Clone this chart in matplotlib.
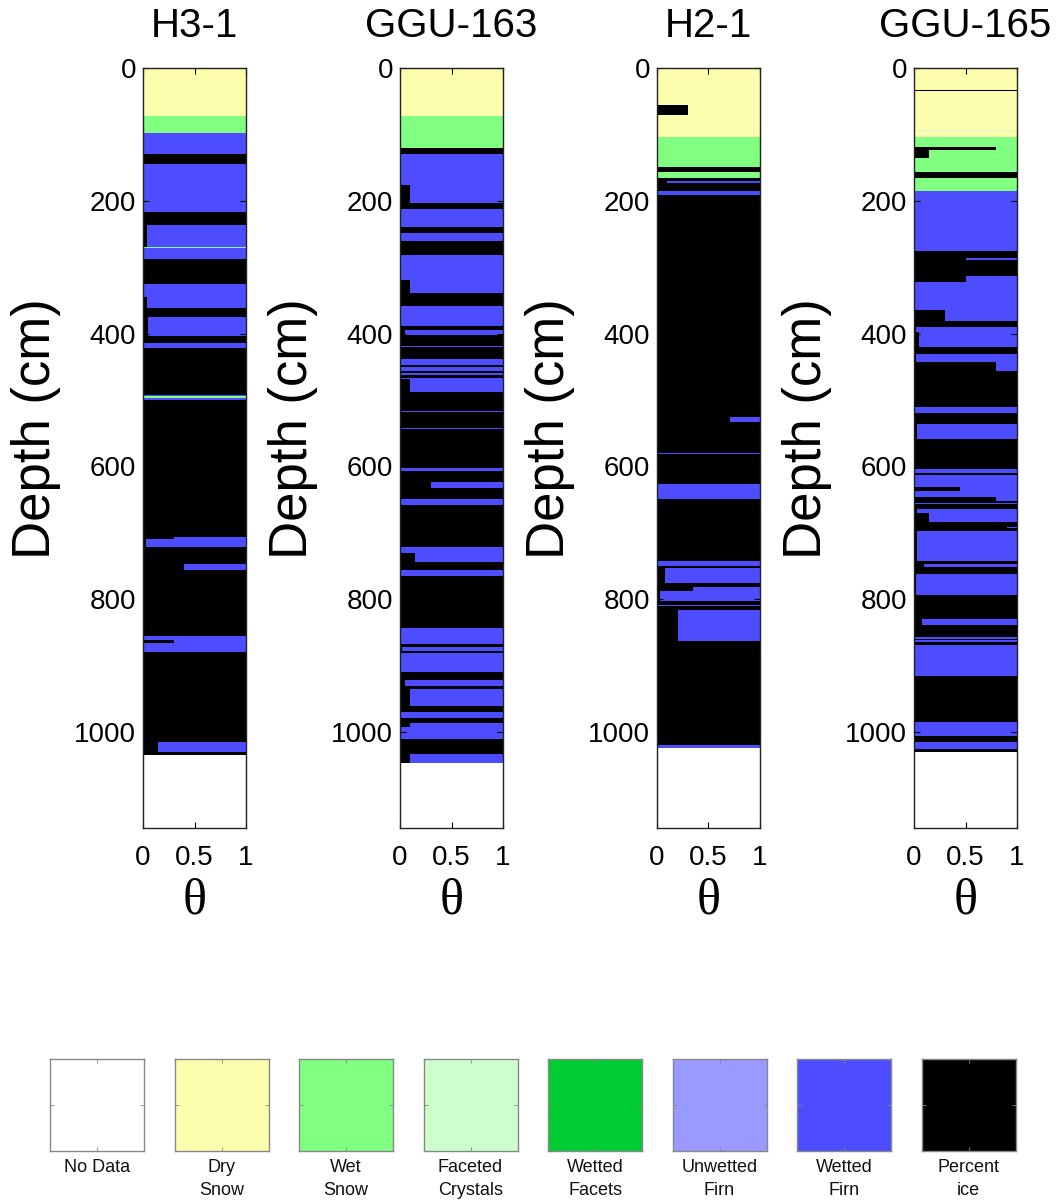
import matplotlib
matplotlib.use('Agg')
import matplotlib.pyplot as plt

plt.rcParams['font.family'] = ['Liberation Sans', 'DejaVu Sans']

# ---------------- data ----------------
core_names = ['H3-1', 'GGU-163', 'H2-1', 'GGU-165']

# layer boundaries (cm), facies code per layer, ice fraction per layer
h31_depth = [0, 73, 98, 130, 145, 217, 237, 269, 271, 288, 326, 345, 362, 375, 404, 415,
             422, 492, 494.5, 497.5, 500, 706, 710, 722, 748, 756, 856, 862, 867, 880, 1016,
             1030, 1035, 1145]
h31_type = 'DWBBBBBWBBBBBBBBBBWBBBBBBBBBBBBBN'
h31_ice = [0, 0, 0, 1, 0, 1, 0.04, 0, 0, 1, 0, 0.04, 1, 0.05, 1, 0, 1, 0, 0, 0, 1, 0.3,
           0.03, 1, 0.4, 1, 0, 0.3, 0, 1, 0.15, 1, 0]

g163_depth = [0, 73, 121, 130, 176, 204, 212, 239, 249, 261, 282, 320, 339, 359, 388, 394,
              403, 419, 421, 439, 447, 450, 457, 460, 462, 467, 469, 488, 517, 519, 542,
              544, 602, 607, 624, 633, 649, 659, 721, 730, 744, 756, 765, 844, 868, 873,
              879, 882, 910, 922, 931, 935, 961, 970, 979, 987, 993, 1011, 1033, 1047, 1145]
g163_type = 'DW' + 'B' * 57 + 'N'
g163_ice = [0, 0.01, 1, 0, 0.1, 1, 0, 1, 0, 1, 0, 0.1, 1, 0, 1, 0.05, 1, 0, 1, 0, 1, 0, 1,
            0, 1, 0, 0.1, 1, 0, 1, 0, 1, 0, 1, 0.3, 1, 0, 1, 0, 0.15, 1, 0, 1, 0, 1, 0.02,
            1, 0.01, 1, 0.05, 1, 0.1, 1, 0, 1, 0.1, 0, 1, 0.1, 0]

h21_depth = [0, 56, 71, 104, 149, 156, 165, 170, 174, 186, 192, 526, 534, 580, 582, 626,
             650, 742, 751, 754, 776, 782, 788, 803, 809, 811, 816, 864, 1020, 1025, 1145]
h21_type = 'DDDWBW' + 'B' * 23 + 'N'
h21_ice = [0, 0.3, 0, 0, 1, 0, 1, 0.1, 1, 0, 1, 0.71, 1, 0, 1, 0, 1, 0, 1, 0.075, 1, 0.35,
           0.03, 1, 0, 1, 0.2, 1, 0, 0]

g165_depth = [0, 33, 35, 93, 95, 104, 119, 124, 135, 156, 165, 185, 275, 287, 290, 314,
              322, 364, 381, 390, 398, 421, 431, 443, 457, 510, 520, 537, 559, 604, 610,
              613, 632, 638, 646, 652, 655, 657, 664, 671, 684, 691, 693, 697, 742, 748,
              752, 762, 794, 830, 839, 857, 860, 862, 865, 870, 916, 986, 1006, 1015, 1026,
              1031, 1145]
g165_type = 'DDDFDWWWWBW' + 'B' * 50 + 'N'
g165_ice = [0, 1, 0, 0, 0, 0, 0.8, 0.15, 0.01, 1, 0.01, 0.01, 1, 0.5, 1, 0.5, 0, 0.3, 1,
            0.02, 0.05, 1, 0.02, 0.8, 1, 0, 1, 0.03, 1, 0, 1, 0, 0.45, 0, 0.8, 1, 0, 1,
            0.03, 0.15, 1, 0.9, 1, 0.03, 1, 0.1, 1, 0.02, 1, 0.08, 1, 0, 1, 0, 1, 0, 1, 0,
            1, 0, 1, 0]

cores = [(h31_depth, h31_type, h31_ice), (g163_depth, g163_type, g163_ice),
         (h21_depth, h21_type, h21_ice), (g165_depth, g165_type, g165_ice)]

legend_labels = ['No Data', 'Dry\nSnow', 'Wet\nSnow', 'Faceted\nCrystals', 'Wetted\nFacets',
                 'Unwetted\nFirn', 'Wetted\nFirn', 'Percent\nice']
legend_codes = ['N', 'D', 'W', 'F', 'G', 'U', 'B', 'I']
facies_colors = {'N': '#ffffff', 'D': '#fdfdae', 'W': '#80ff80', 'F': '#ccffcc',
                 'G': '#00cc33', 'U': '#9999ff', 'B': '#4d4dff', 'I': '#000000'}

# ---------------- figure ----------------
W, H = 1064, 1202
fig = plt.figure(figsize=(W / 100, H / 100), dpi=100)

ax_left = [143, 400, 657, 914]
ax_w = 103
ax_top, ax_bot = 68, 828

for name, left, (depth, types, ice) in zip(core_names, ax_left, cores):
    assert len(depth) == len(types) + 1 == len(ice) + 1, name
    ax = fig.add_axes([left / W, 1 - ax_bot / H, ax_w / W, (ax_bot - ax_top) / H])
    tops = depth[:-1]
    thick = [b - t for t, b in zip(depth[:-1], depth[1:])]
    cols = [facies_colors[c] for c in types]
    ax.barh(tops, [1] * len(tops), height=thick, left=0, align='edge',
            color=cols, linewidth=0)
    ax.barh(tops, ice, height=thick, left=0, align='edge', color='k', linewidth=0)
    ax.set_xlim(0, 1)
    ax.set_ylim(1145, 0)
    ax.set_yticks([0, 200, 400, 600, 800, 1000])
    ax.set_xticks([0, 0.5, 1])
    ax.set_xticklabels(['0', '0.5', '1'])
    ax.tick_params(direction='in', top=True, right=True, length=4, width=0.8,
                   labelsize=20)
    ax.tick_params(axis='x', pad=12)
    ax.tick_params(axis='y', pad=5)
    for s in ax.spines.values():
        s.set_linewidth(1.0)
        s.set_color('#222222')
    ax.set_title(name, fontsize=29, pad=22)
    ax.set_ylabel('Depth (cm)', fontsize=38)
    ax.yaxis.set_label_coords(-0.80, 0.525)
    ax.set_xlabel('θ', fontsize=36, family=['Liberation Serif', 'DejaVu Serif'],
                  labelpad=5)

# ---------------- legend ----------------
leg_left = [50, 174.5, 299, 423.5, 548, 672.5, 797, 921.5]
leg_w = 94
leg_top, leg_bot = 1059, 1151
for lbl, code, left in zip(legend_labels, legend_codes, leg_left):
    lax = fig.add_axes([left / W, 1 - leg_bot / H, leg_w / W, (leg_bot - leg_top) / H])
    lax.barh([0], [1], height=1, left=0, align='edge', color=facies_colors[code],
             linewidth=0)
    lax.set_xlim(0, 1)
    lax.set_ylim(0, 1)
    lax.set_xticks([0.5])
    lax.set_yticks([0.5])
    lax.set_xticklabels([])
    lax.set_yticklabels([])
    lax.tick_params(direction='in', top=True, right=True, length=3, width=0.6,
                    color='#888888')
    for s in lax.spines.values():
        s.set_linewidth(1.0)
        s.set_color('#888888')
    fig.text((left + leg_w / 2) / W, 1 - 1159 / H, lbl, ha='center', va='top',
             fontsize=13, linespacing=1.45, color='#111111')

fig.savefig('out.png', dpi=100)
